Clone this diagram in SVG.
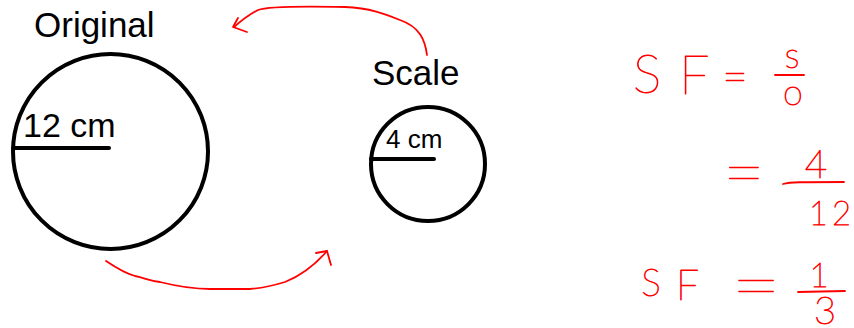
<svg xmlns="http://www.w3.org/2000/svg" width="854" height="328" viewBox="0 0 854 328">
<style>
.shape{fill:none;stroke:#000;stroke-width:4}
.rad{stroke:#000;stroke-width:4;stroke-linecap:round}
.lbl{font-family:"Liberation Sans",Arial,sans-serif;fill:#000}
.ink{fill:none;stroke:#ff0000;stroke-width:1.8;stroke-linecap:round;stroke-linejoin:round}
.hw{font-family:Lato,"Open Sans","DejaVu Sans",sans-serif;font-weight:200;fill:#ff0000;stroke:#ff0000;stroke-width:0.9;stroke-linejoin:round}
</style>
<rect width="854" height="328" fill="#fff"/>
<g id="original">
  <text class="lbl" x="34" y="37" font-size="35">Original</text>
  <circle class="shape" cx="110.5" cy="151.5" r="97.5"/>
  <line class="rad" x1="13" y1="148" x2="109" y2="148"/>
  <text class="lbl" x="23" y="137" font-size="34">12 cm</text>
</g>
<g id="scale">
  <text class="lbl" x="372" y="85" font-size="35">Scale</text>
  <circle class="shape" cx="428" cy="164" r="57"/>
  <line class="rad" x1="371" y1="159" x2="434" y2="159"/>
  <text class="lbl" x="386" y="148" font-size="26">4 cm</text>
</g>
<g id="connectors">
  <path class="ink" d="M427,55 C425,40 420,27 400,20 C385,14 370,8 345,7 C300,6 268,6 258,10 C250,14 242,20 234,27"/>
  <path class="ink" d="M238,18 L233,27 L247,32"/>
  <path class="ink" d="M106,261 C115,267 124,273 135,276 C145,278 150,281 160,282 C180,287 195,289 210,289 L250,289 C265,288 275,285 285,282 C300,276 315,265 327,251"/>
  <path class="ink" d="M316,253 L327,251 L331,265"/>
</g>
<g id="equations">
  <text class="hw" x="647" y="93" font-size="54" text-anchor="middle">S</text>
  <text class="hw" x="679" y="94" font-size="54">F</text>
  <text class="hw" x="735" y="92" font-size="44" text-anchor="middle">=</text>
  <text class="hw" x="792" y="68" font-size="35" text-anchor="middle">s</text>
  <line class="ink" x1="775" y1="75" x2="804" y2="75"/>
  <text class="hw" x="793" y="105" font-size="36" text-anchor="middle">o</text>

  <text class="hw" x="744" y="198" font-size="72" text-anchor="middle">=</text>
  <text class="hw" x="816" y="178" font-size="39" text-anchor="middle">4</text>
  <path class="ink" d="M783,184 C790,182 800,182 844,182"/>
  <text class="hw" x="832" y="225" font-size="33" letter-spacing="4" text-anchor="middle">12</text>

  <text class="hw" x="651" y="296" font-size="37" text-anchor="middle">S</text>
  <text class="hw" x="676" y="300" font-size="41">F</text>
  <text class="hw" transform="translate(756,311) scale(1.2,1)" font-size="72" text-anchor="middle">=</text>
  <text class="hw" x="819" y="287" font-size="34" text-anchor="middle">1</text>
  <line class="ink" x1="798" y1="292" x2="845" y2="291"/>
  <text class="hw" x="825" y="324" font-size="38" text-anchor="middle">3</text>
</g>
</svg>
